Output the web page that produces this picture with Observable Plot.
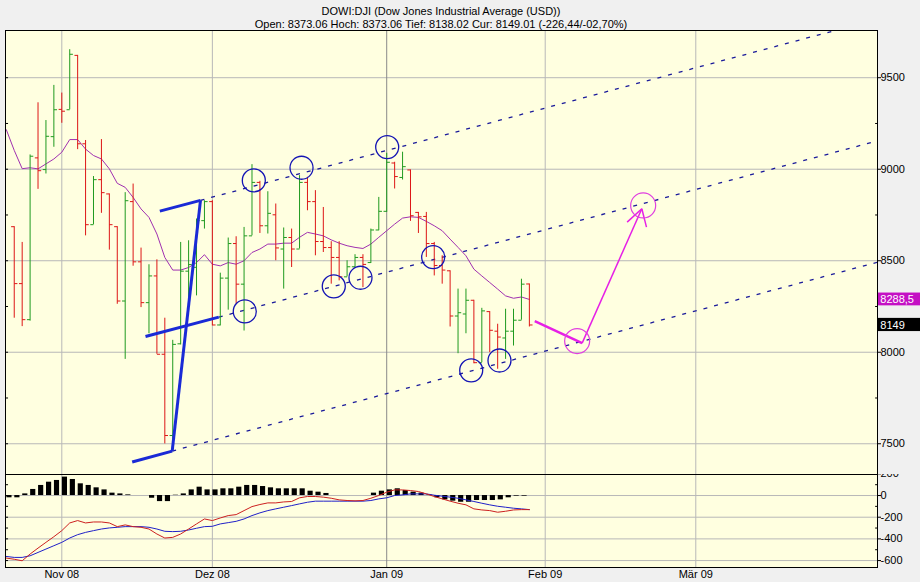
<!DOCTYPE html>
<html><head><meta charset="utf-8">
<script src="https://cdn.jsdelivr.net/npm/d3@7"></script>
<script src="https://cdn.jsdelivr.net/npm/@observablehq/plot@0.6"></script>
<style>
body{margin:0;background:#f0f0f0;}
#wrap{position:relative;width:920px;height:582px;background:#f0f0f0;font-family:"Liberation Sans",Arial,sans-serif;overflow:hidden}
#title{position:absolute;top:4.5px;left:0;width:882px;text-align:center;font-size:11px;line-height:13px;color:#000;white-space:nowrap}
#main{position:absolute;left:0;top:30px;width:920px;height:444px}
#macd{position:absolute;left:0;top:474px;width:920px;height:108px}
svg{overflow:hidden}
</style></head><body>
<div id="wrap">
<div id="title">DOWI:DJI (Dow Jones Industrial Average (USD))<br>Open: 8373.06 Hoch: 8373.06 Tief: 8138.02 Cur: 8149.01 (-226,44/-02,70%)</div>
<div id="main"></div><div id="macd"></div>
</div>
<script>
// trading-day index 0 = 24 Oct 2008 ... 65 = 29 Jan 2009
const opens  = [8686,8375,8178,9062,8998,9178,9327,9325,9622,9139,8697,8943,8865,8686,8280,8823,8494,8271,8417,7989,7545,8046,8443,8464,8719,8823,8149,8405,8594,8372,8636,8928,8691,8751,8564,8627,8564,8928,8823,8605,8572,8518,8412,8467,8518,8490,8668,8770,9034,8955,8996,8764,8742,8594,8474,8445,8198,8209,8284,7943,8222,8115,8078,8115,8175,8373];
const highs  = [8686,8600,9078,9363,9266,9458,9416,9653,9622,9157,8960,9162,8865,8686,8872,8919,8569,8478,8505,8186,8065,8600,8609,8728,8828,8828,8432,8624,8631,8682,9025,8934,8877,8810,8679,8673,8965,8956,8883,8791,8604,8604,8500,8533,8533,8673,8846,9087,9038,9093,8996,8764,8764,8600,8527,8445,8345,8345,8284,8240,8222,8153,8235,8235,8399,8373];
const lows   = [8186,8140,8170,8890,8974,9120,9251,9325,9107,8636,8697,8759,8558,8262,7961,8470,8244,8101,7989,7499,7470,8040,8299,8308,8673,8144,8144,8230,8262,8116,8636,8649,8646,8500,8345,8463,8564,8773,8527,8545,8372,8390,8412,8463,8353,8485,8664,8764,8892,8941,8715,8649,8518,8417,8372,8138,7992,8101,7937,7943,7998,7907,7961,8034,8175,8138];
const closes = [8375,8178,9071,8992,9180,9325,9317,9628,9139,8697,8943,8872,8697,8280,8828,8494,8271,8417,7989,7545,8043,8443,8479,8719,8823,8149,8405,8594,8372,8636,8928,8691,8759,8570,8627,8564,8928,8823,8605,8572,8518,8412,8467,8518,8480,8668,8770,9038,8960,9014,8746,8740,8594,8474,8449,8198,8216,8284,7943,8226,8120,8083,8115,8175,8372,8149];
// moving average, indicator series: index -1 .. 65
const maValues = [9216,9103,9003,9008,9002,9029,9056,9093,9162,9162,9110,9075,9056,9002,8923,8901,8846,8783,8737,8646,8518,8449,8449,8463,8490,8533,8481,8472,8490,8481,8500,8545,8564,8591,8591,8596,8596,8628,8655,8646,8636,8614,8596,8582,8573,8567,8591,8628,8664,8700,8733,8740,8737,8715,8691,8664,8618,8573,8527,8454,8417,8381,8345,8308,8295,8302,8288.5];
const histValues = [-21,-21,15,56,93,123,139,170,148,108,93,71,52,22,15,6,0,0,-25,-56,-56,3,15,52,77,52,52,62,62,77,93,93,83,71,62,62,62,62,40,31,19,0,0,0,0,0,22,40,52,62,46,31,22,6,-21,-40,-52,-62,-62,-46,-46,-46,-40,-21,-6,-6,0];
const macdValues = [-577,-588,-602,-540,-485,-432,-380,-324,-253,-231,-253,-244,-244,-253,-287,-271,-287,-293,-309,-355,-392,-386,-355,-309,-262,-216,-231,-207,-185,-176,-139,-102,-83,-68,-68,-59,-55,-21,-9,-9,-15,-25,-40,-46,-49,-46,-25,0,31,52,52,46,37,15,-9,-31,-52,-71,-86,-123,-133,-139,-154,-145,-133,-130,-130];
const signalValues = [-562,-571,-571,-556,-525,-494,-463,-432,-392,-361,-340,-324,-309,-299,-293,-287,-287,-287,-293,-309,-330,-333,-330,-318,-302,-287,-284,-262,-250,-238,-216,-185,-160,-139,-123,-108,-93,-77,-62,-52,-52,-52,-52,-52,-52,-52,-46,-31,-21,0,6,15,15,15,3,-6,-15,-25,-40,-55,-71,-86,-99,-108,-117,-123,-130];
const monthTicks = [6,25,47,67,86];
const monthLabels = ["Nov 08","Dez 08","Jan 09","Feb 09","Mär 09"];
const yearTick = [47];
const priceTicks = [7500,8000,8500,9000,9500];
const priceMinor = [7750,8250,8750,9250];
const macdTicks = [200,0,-200,-400,-600];
const macdMinor = [100,-100,-300,-500];
// drawn annotations (index, value)
const forkSegments = [
  [[14.88,7400],[19.93,7460]],
  [[19.93,7460],[23.5,8830]],
  [[18.37,8771],[23.5,8830]],
  [[16.56,8086],[25.81,8192]]
];
const channelLines = [
  [[23.5,8830],[108.93,9820]],
  [[25.81,8192],[108.93,9155]],
  [[19.93,7460],[108.93,8492]]
];
const blueCircles = [[30.23,8939],[36.25,9008],[47.06,9121],[29.09,8223],[40.32,8360],[43.69,8407],[52.86,8520],[57.66,7901],[61.23,7955]];
const pinkCircles = [[71.03,8061],[79.36,8802]];
const pinkThick = [[65.68,8170],[71.66,8050]];
const pinkArrow = [[71.66,8050],[79.19,8784]];
const pinkBarbs = [[77.34,8711],[79.78,8684]];

const XDOM = [-1.104, 108.93];
const XMAX = 114.4;
const bars = opens.map((o,k)=>({i:k,o,h:highs[k],l:lows[k],c:closes[k]}));
const up = bars.filter(d=>d.c>=d.o), down = bars.filter(d=>d.c<d.o);
const ma = maValues.map((v,k)=>({i:k-1,v}));
const ind = histValues.map((h,k)=>({i:k-1,h,m:macdValues[k],s:signalValues[k]}));
const GREEN="#1f9a1f", RED="#dd1616", GRID="#b8b8b8", GRIDDARK="#8a8a8a";
const seg = a => a.map(([p,q])=>({x1:p[0],y1:p[1],x2:q[0],y2:q[1]}));
const style = {background:"transparent",fontFamily:"Liberation Sans, Arial, sans-serif",fontSize:"11px",color:"black",overflow:"hidden"};

function ohlc(data, color){
  return [
    Plot.ruleX(data,{x:"i",y1:"l",y2:"h",stroke:color,strokeWidth:1}),
    Plot.link(data,{x1:d=>d.i-0.4,x2:"i",y1:"o",y2:"o",stroke:color,strokeWidth:1}),
    Plot.link(data,{x1:"i",x2:d=>d.i+0.4,y1:"c",y2:"c",stroke:color,strokeWidth:1})
  ];
}
const lastMA = maValues[maValues.length-1], lastC = closes[closes.length-1];
const monthsNoYear = monthTicks.filter(d=>!yearTick.includes(d));
const main = Plot.plot({
  width:920, height:444, marginLeft:5, marginRight:43, marginTop:0, marginBottom:0,
  style,
  x:{type:"linear",domain:XDOM,axis:null,label:null},
  y:{domain:[7332,9758],axis:null,label:null},
  marks:[
    Plot.frame({fill:"#ffffe0",stroke:null}),
    Plot.ruleY(priceTicks,{stroke:GRID}),
    Plot.ruleX(monthsNoYear,{stroke:GRID}),
    Plot.ruleX(yearTick,{stroke:GRIDDARK}),
    Plot.link(seg(channelLines),{x1:"x1",y1:"y1",x2:"x2",y2:"y2",stroke:"#1a1a9a",strokeWidth:1.3,strokeDasharray:"4,7",clip:true}),
    Plot.line(ma,{x:"i",y:"v",stroke:"#a030b0",strokeWidth:1,clip:true}),
    ...ohlc(up,GREEN), ...ohlc(down,RED),
    Plot.dot(blueCircles,{x:d=>d[0],y:d=>d[1],r:11.5,stroke:"#1414b4",strokeWidth:1.3,fill:"none"}),
    Plot.link(seg(forkSegments),{x1:"x1",y1:"y1",x2:"x2",y2:"y2",stroke:"#1a2ad6",strokeWidth:3}),
    Plot.link(seg([pinkThick]),{x1:"x1",y1:"y1",x2:"x2",y2:"y2",stroke:"#e620e6",strokeWidth:2.5}),
    Plot.link(seg([pinkArrow]),{x1:"x1",y1:"y1",x2:"x2",y2:"y2",stroke:"#e620e6",strokeWidth:1.5}),
    Plot.link(pinkBarbs.map(b=>({x1:pinkArrow[1][0],y1:pinkArrow[1][1],x2:b[0],y2:b[1]})),{x1:"x1",y1:"y1",x2:"x2",y2:"y2",stroke:"#e620e6",strokeWidth:1.5}),
    Plot.dot(pinkCircles,{x:d=>d[0],y:d=>d[1],r:12.5,stroke:"#e040e0",strokeWidth:1.2,fill:"none"}),
    Plot.link(priceMinor.concat(priceTicks),{x1:XDOM[0],x2:XDOM[0]+0.32,y1:d=>d,y2:d=>d,stroke:"black"}),
    Plot.link(priceMinor,{x1:XDOM[1]-0.3,x2:XDOM[1],y1:d=>d,y2:d=>d,stroke:"black"}),
    Plot.axisY({anchor:"right",ticks:priceTicks,tickSize:3,tickPadding:0,tickFormat:d=>String(d),fontSize:11,label:null}),
    Plot.rect([lastMA],{x1:XDOM[1]+0.1,x2:XMAX,y1:d=>d-35,y2:d=>d+35,fill:"#c410c4"}),
    Plot.text([lastMA],{x:XDOM[1]+0.35,y:d=>d,text:d=>String(d).replace(".",","),textAnchor:"start",fill:"white",fontSize:11}),
    Plot.rect([lastC],{x1:XDOM[1]+0.1,x2:XMAX,y1:d=>d-36,y2:d=>d+36,fill:"black"}),
    Plot.text([lastC],{x:XDOM[1]+0.35,y:d=>d,text:d=>String(Math.floor(d)),textAnchor:"start",fill:"white",fontSize:11}),
    Plot.frame({stroke:"black"})
  ]
});
document.getElementById("main").appendChild(main);

const macd = Plot.plot({
  width:920, height:108, marginLeft:5, marginRight:43, marginTop:0, marginBottom:15,
  style,
  x:{type:"linear",domain:XDOM,axis:null,label:null},
  y:{domain:[-664,194],axis:null,label:null},
  marks:[
    Plot.frame({fill:"#ffffe0",stroke:null}),
    Plot.ruleY([0,-200,-400,-600],{stroke:GRID}),
    Plot.ruleX(monthsNoYear,{stroke:GRID}),
    Plot.ruleX(yearTick,{stroke:GRIDDARK}),
    Plot.rect(ind,{x1:d=>d.i+0.07,x2:d=>d.i+0.72,y1:0,y2:"h",fill:"black"}),
    Plot.line(ind,{x:"i",y:"s",stroke:"#2020c8",strokeWidth:1,clip:true}),
    Plot.line(ind,{x:"i",y:"m",stroke:"#cc2020",strokeWidth:1,clip:true}),
    Plot.link(macdMinor.concat([0,-200,-400,-600]),{x1:XDOM[0],x2:XDOM[0]+0.32,y1:d=>d,y2:d=>d,stroke:"black"}),
    Plot.link(macdMinor,{x1:XDOM[1]-0.3,x2:XDOM[1],y1:d=>d,y2:d=>d,stroke:"black"}),
    Plot.axisY({anchor:"right",ticks:macdTicks,tickSize:3,tickPadding:0,tickFormat:d=>String(d),fontSize:11,label:null}),
    Plot.axisX({ticks:monthTicks,tickFormat:d=>monthLabels[monthTicks.indexOf(d)],tickSize:0,tickPadding:3,fontSize:11,label:null}),
    Plot.frame({stroke:"black"})
  ]
});
document.getElementById("macd").appendChild(macd);
</script>
</body></html>
